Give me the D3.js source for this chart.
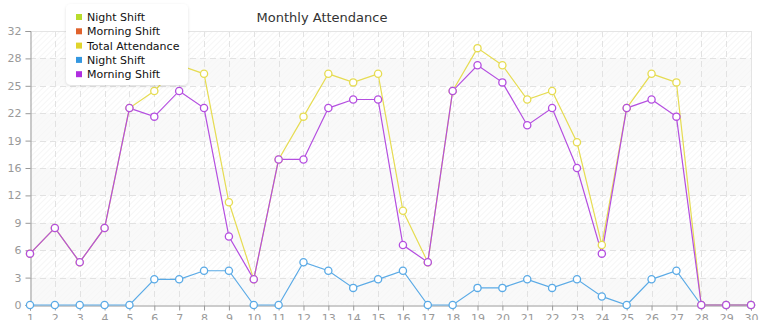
<!DOCTYPE html>
<html><head><meta charset="utf-8">
<script src="https://cdn.jsdelivr.net/npm/d3@7"></script>
<style>body{margin:0;background:#fff;}svg{display:block;font-family:"DejaVu Sans",Verdana,sans-serif;}</style>
</head><body><svg id="c" width="765" height="320"></svg>
<script>
const days = d3.range(1,31);
const nightShift = [0,0,0,0,0,3,3,4,4,0,0,5,4,2,3,4,0,0,2,2,3,2,3,1,0,3,4,0,0,0];
const morningShift = [6,9,5,9,23,22,25,23,8,3,17,17,23,24,24,7,5,25,28,26,21,23,16,6,23,24,22,0,0,0];
const totalAttendance = [6,9,5,9,23,25,28,27,12,3,17,22,27,26,27,11,5,25,30,28,24,25,19,7,23,27,26,0,0,0];
const yTickValues = [0,3.2,6.4,9.6,12.8,16,19.2,22.4,25.6,28.8,32];
const yTickLabels = ["0","3","6","9","12","16","19","22","25","28","32"];
const legendNames = ["Night Shift","Morning Shift","Total Attendance","Night Shift","Morning Shift"];
const legendColors = ["#b8dc2c","#e0622c","#e0d42c","#3497e0","#b02ee0"];

const svg = d3.select("#c");
const L=30,R=751,T=31,B=305;
const x = d3.scaleLinear().domain([1,30]).range([L,R]);
const y = d3.scaleLinear().domain([0,32]).range([B,T]);

const defs = svg.append("defs");
const pat = defs.append("pattern").attr("id","hatch").attr("patternUnits","userSpaceOnUse")
  .attr("width",4).attr("height",4).attr("patternTransform","rotate(45)");
pat.append("rect").attr("width",4).attr("height",4).attr("fill","#fff");
pat.append("line").attr("x1",0).attr("y1",0).attr("x2",0).attr("y2",4).attr("stroke","#f0f0f0").attr("stroke-width",1.2);

svg.append("rect").attr("x",L).attr("y",T).attr("width",R-L).attr("height",B-T).attr("fill","url(#hatch)");
for(let i=0;i<yTickValues.length-1;i++){
  if(i%2===0){
    svg.append("rect").attr("x",L).attr("width",R-L)
      .attr("y",y(yTickValues[i+1])).attr("height",y(yTickValues[i])-y(yTickValues[i+1]))
      .attr("fill","rgba(246,246,246,0.7)");
  }
}
svg.append("g").selectAll("line").data(yTickValues.slice(1,-1)).join("line")
  .attr("x1",L).attr("x2",R).attr("y1",d=>Math.round(y(d))+0.5).attr("y2",d=>Math.round(y(d))+0.5)
  .attr("stroke","#e2e2e2").attr("stroke-dasharray","6,4");
svg.append("g").selectAll("line").data(days.slice(1,-1)).join("line")
  .attr("y1",T).attr("y2",B).attr("x1",d=>Math.round(x(d))+0.5).attr("x2",d=>Math.round(x(d))+0.5)
  .attr("stroke","#e2e2e2").attr("stroke-dasharray","6,4");
svg.append("line").attr("x1",L).attr("x2",R).attr("y1",T+0.5).attr("y2",T+0.5).attr("stroke","#e4e4e4");
svg.append("line").attr("x1",R+0.5).attr("x2",R+0.5).attr("y1",T).attr("y2",B).attr("stroke","#e4e4e4");

const yAxis = d3.axisLeft(y).tickValues(yTickValues).tickFormat((d,i)=>yTickLabels[i]).tickSize(5).tickPadding(4);
const gy = svg.append("g").attr("transform",`translate(${L+0.5},0)`).call(yAxis);
const xAxis = d3.axisBottom(x).tickValues(days).tickFormat(d3.format("d")).tickSize(5).tickPadding(4);
const gx = svg.append("g").attr("transform",`translate(0,${B+0.5})`).call(xAxis);
[gy,gx].forEach(g=>{
  g.select(".domain").attr("stroke","#999");
  g.selectAll(".tick line").attr("stroke","#999");
  g.selectAll("text").attr("fill","#999").attr("font-size","11px").attr("font-family","DejaVu Sans, sans-serif");
});

const series = [
  {vals:nightShift,color:"#5aaae6"},
  {vals:totalAttendance,color:"#e6dc52"},
  {vals:morningShift,color:"#b44ee0"}
];
const line = d3.line().x((d,i)=>x(days[i])).y(d=>y(d));
series.forEach(s=>{
  svg.append("path").datum(s.vals).attr("d",line).attr("fill","none").attr("stroke",s.color).attr("stroke-width",1.2);
});
series.forEach(s=>{
  svg.append("g").selectAll("circle").data(s.vals).join("circle")
    .attr("cx",(d,i)=>x(days[i])).attr("cy",d=>y(d)).attr("r",3.6)
    .attr("fill","#fff").attr("stroke",s.color).attr("stroke-width",1.3);
});

svg.append("text").attr("x",322).attr("y",22).attr("text-anchor","middle")
  .attr("font-size","13px").attr("fill","#333").text("Monthly Attendance");

const lg = svg.append("g");
defs.append("filter").attr("id","sh").attr("x","-20%").attr("y","-20%").attr("width","140%").attr("height","140%")
  .append("feDropShadow").attr("dx",0).attr("dy",1).attr("stdDeviation",1.5).attr("flood-color","#000").attr("flood-opacity",0.12);
lg.append("rect").attr("x",66).attr("y",4).attr("width",122).attr("height",81).attr("rx",5)
  .attr("fill","#fff").attr("filter","url(#sh)");
legendNames.forEach((n,i)=>{
  const cy = 17 + i*14.3;
  lg.append("rect").attr("x",76).attr("y",cy-3).attr("width",6).attr("height",6).attr("fill",legendColors[i]);
  lg.append("text").attr("x",87).attr("y",cy+4).attr("font-size","11px").attr("fill","#111").text(n);
});
</script></body></html>
